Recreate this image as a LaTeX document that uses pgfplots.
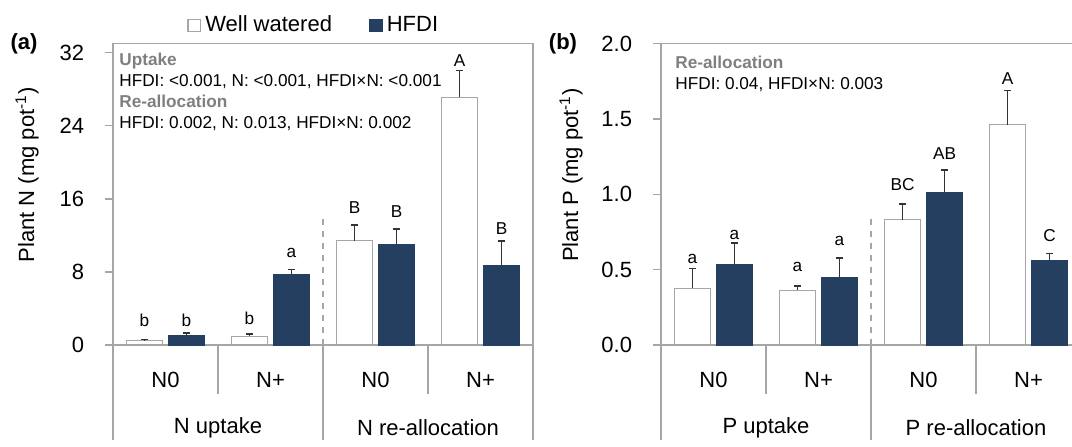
\documentclass[border=0pt]{standalone}
\usepackage{fontspec}
\setmainfont{Liberation Sans}
\usepackage{pgfplots}
\usepackage{pgfplotstable}
\pgfplotsset{compat=1.18}
\definecolor{navy}{HTML}{253F60}
\definecolor{axgray}{HTML}{A6A6A6}
\definecolor{txtgray}{HTML}{7F7F7F}
\definecolor{errcol}{HTML}{333333}
\newcommand{\bigf}{\fontsize{11}{13}\selectfont}
\newcommand{\annf}{\fontsize{8.6}{10}\selectfont}

% x  value  error(+)  letter-y  letter
\pgfplotstableread{
x   y     e     ly     lab
0.5 0.50  0.10  2.0    b
1.5 0.95  0.25  2.2    b
2.5 11.4  1.75  14.4   B
3.5 27.1  2.95  30.4   A
}\NwwTable
\pgfplotstableread{
x   y     e     ly     lab
0.5 1.00  0.30  2.0    b
1.5 7.75  0.50  9.5    a
2.5 11.0  1.70  13.95  B
3.5 8.66  2.74  12.1   B
}\NhfTable
\pgfplotstableread{
x   y      e      ly     lab
0.5 0.375  0.133  0.536  a
1.5 0.364  0.029  0.486  a
2.5 0.830  0.104  1.022  BC
3.5 1.462  0.227  1.727  A
}\PwwTable
\pgfplotstableread{
x   y      e      ly     lab
0.5 0.534  0.141  0.695  a
1.5 0.448  0.128  0.656  a
2.5 1.009  0.150  1.230  AB
3.5 0.563  0.044  0.684  C
}\PhfTable

\pgfplotsset{
  panel/.style={
    scale only axis, anchor=south west, clip=false,
    xmin=0, xmax=4, ymin=0,
    axis line style={draw=axgray, line width=0.7pt},
    tick align=outside, major tick length=4pt,
    ytick pos=left,
    y tick style={draw=axgray, line width=0.7pt},
    x tick style={draw=none},
    xtick={0.5,1.5,2.5,3.5},
    xticklabels={N0,N+,N0,N+},
    xticklabel style={font=\bigf, anchor=center, inner sep=0pt, yshift=-13.5pt},
    yticklabel style={font=\bigf, anchor=east, inner sep=0pt, xshift=-10.3pt},
    /pgf/number format/assume math mode=true,
  },
  errstyle/.style={error bars/.cd, y dir=plus, y explicit,
    error bar style={errcol, line width=0.8pt},
    error mark options={errcol, rotate=90, mark size=1.8pt, line width=0.8pt}},
  wwbar/.style={ybar, bar width=0.345, bar shift=0, fill=white, draw=axgray, line width=0.6pt, errstyle},
  hfbar/.style={ybar, bar width=0.345, bar shift=0, fill=navy, draw=navy, line width=0.6pt, errstyle},
  letters/.style={forget plot, draw=none, mark=none, nodes near coords, point meta=explicit symbolic,
    nodes near coords style={anchor=south, inner sep=0pt, font=\annf, text=black}},
}

\begin{document}
\begin{tikzpicture}[x=0.5pt, y=0.5pt]

% ---------------- panel (a)
\begin{axis}[panel, at={(56.5pt,50.5pt)}, width=210pt, height=150.75pt,
  ymax=33, ytick={0,8,16,24,32},
  legend style={at={(axis description cs:0.4805,1)}, anchor=center, yshift=9pt,
    draw=none, fill=none, legend columns=2, font=\bigf,
    /tikz/every even column/.append style={column sep=16.5pt}},
  legend image code/.code={\draw[#1] (0pt,-3.15pt) rectangle (6.3pt,3.15pt);},
]
\addplot[wwbar] table[x expr=\thisrow{x}-0.2, y=y, y error=e] {\NwwTable};
\addlegendentry{Well watered}
\addplot[hfbar] table[x expr=\thisrow{x}+0.2, y=y, y error=e] {\NhfTable};
\addlegendentry{HFDI}
\addplot[letters] table[x expr=\thisrow{x}-0.2, y=ly, meta=lab] {\NwwTable};
\addplot[letters] table[x expr=\thisrow{x}+0.2, y=ly, meta=lab] {\NhfTable};
\draw[axgray, dashed, line width=0.7pt] (axis cs:2,0) -- (axis cs:2,14.25);
\pgfplotsinvokeforeach{0,2,4}{\draw[axgray, line width=0.7pt] (axis cs:#1,0) -- ++(0,-47.5pt);}
\pgfplotsinvokeforeach{1,3}{\draw[axgray, line width=0.7pt] (axis cs:#1,0) -- ++(0,-24.5pt);}
\node[font=\bigf] at (axis cs:1,0) [yshift=-41.5pt] {N uptake};
\node[font=\bigf] at (axis cs:3,0) [yshift=-41.5pt] {N re-allocation};
\end{axis}

% ---------------- panel (b)
\begin{axis}[panel, at={(330.5pt,50.5pt)}, width=210pt, height=150.75pt,
  ymax=2, ytick={0,0.5,1,1.5,2},
  yticklabel style={/pgf/number format/.cd, fixed, fixed zerofill, precision=1},
]
\addplot[wwbar] table[x expr=\thisrow{x}-0.2, y=y, y error=e] {\PwwTable};
\addplot[hfbar] table[x expr=\thisrow{x}+0.2, y=y, y error=e] {\PhfTable};
\addplot[letters] table[x expr=\thisrow{x}-0.2, y=ly, meta=lab] {\PwwTable};
\addplot[letters] table[x expr=\thisrow{x}+0.2, y=ly, meta=lab] {\PhfTable};
\draw[axgray, dashed, line width=0.7pt] (axis cs:2,0) -- (axis cs:2,0.86);
\pgfplotsinvokeforeach{0,2,4}{\draw[axgray, line width=0.7pt] (axis cs:#1,0) -- ++(0,-47.5pt);}
\pgfplotsinvokeforeach{1,3}{\draw[axgray, line width=0.7pt] (axis cs:#1,0) -- ++(0,-24.5pt);}
\node[font=\bigf] at (axis cs:1,0) [yshift=-41.5pt] {P uptake};
\node[font=\bigf] at (axis cs:3,0) [yshift=-41.5pt] {P re-allocation};
\end{axis}

% ---------------- texts
\node[font=\bigf\bfseries] at (24,402) {(a)};
\node[font=\bigf\bfseries] at (563,402) {(b)};
\node[font=\bigf, rotate=90, anchor=base] at (34,271) {Plant N (mg pot\textsuperscript{-1})};
\node[font=\bigf, rotate=90, anchor=base] at (578,271) {Plant P (mg pot\textsuperscript{-1})};

\node[font=\annf\bfseries, text=txtgray, anchor=base west, inner sep=0pt] at (119,381) {Uptake};
\node[font=\annf, anchor=base west, inner sep=0pt] at (119,360) {HFDI: <0.001, N: <0.001, HFDI×N: <0.001};
\node[font=\annf\bfseries, text=txtgray, anchor=base west, inner sep=0pt] at (119,339) {Re-allocation};
\node[font=\annf, anchor=base west, inner sep=0pt] at (119,318) {HFDI: 0.002, N: 0.013, HFDI×N: 0.002};

\node[font=\annf\bfseries, text=txtgray, anchor=base west, inner sep=0pt] at (675,378) {Re-allocation};
\node[font=\annf, anchor=base west, inner sep=0pt] at (675,357) {HFDI: 0.04, HFDI×N: 0.003};

\pgfresetboundingbox
\useasboundingbox (0,0) rectangle (1072,446);
\end{tikzpicture}
\end{document}
